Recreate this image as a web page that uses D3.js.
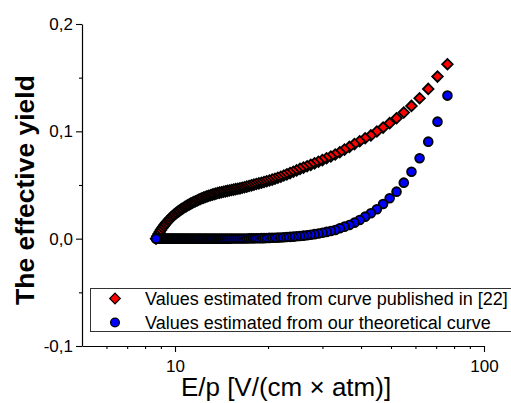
<!DOCTYPE html>
<html>
<head>
<meta charset="utf-8">
<script src="https://cdn.jsdelivr.net/npm/d3@7"></script>
<style>
  html, body { margin: 0; padding: 0; background: #fff; }
  svg { display: block; }
  text { font-family: "Liberation Sans", Arial, Helvetica, sans-serif; fill: #000; }
</style>
</head>
<body>
<svg id="chart" width="511" height="403"></svg>
<script>
// Reduced field E/p [V/(cm x atm)]
const fieldRatio = [
  8.68, 8.76, 8.84, 8.92, 9.00, 9.08, 9.17, 9.25, 9.34, 9.43,
  9.52, 9.61, 9.71, 9.80, 9.90, 10.00, 10.10, 10.21, 10.31, 10.42,
  10.53, 10.65, 10.76, 10.88, 11.00, 11.12, 11.25, 11.38, 11.51, 11.65,
  11.79, 11.93, 12.07, 12.22, 12.38, 12.53, 12.69, 12.86, 13.03, 13.20,
  13.38, 13.56, 13.75, 13.94, 14.14, 14.35, 14.56, 14.78, 15.00, 15.23,
  15.47, 15.71, 15.97, 16.23, 16.50, 16.78, 17.07, 17.37, 17.68, 18.00,
  18.33, 18.68, 19.04, 19.41, 19.80, 20.20, 20.63, 21.06, 21.52, 22.00,
  22.50, 23.02, 23.57, 24.15, 24.75, 25.38, 26.05, 26.76, 27.50, 28.29,
  29.12, 30.00, 30.94, 31.94, 33.00, 34.14, 35.36, 36.67, 38.08, 39.60,
  41.25, 43.04, 45.00, 47.14, 49.50, 52.11, 55.00, 58.24, 61.88, 66.00,
  70.71, 76.15
];

// Effective yield taken from the published curve [22]
const yieldPublished = [
  0.0000, 0.0022, 0.0043, 0.0062, 0.0080, 0.0097, 0.0113, 0.0128, 0.0143, 0.0157,
  0.0170, 0.0183, 0.0196, 0.0208, 0.0219, 0.0230, 0.0240, 0.0250, 0.0259, 0.0268,
  0.0277, 0.0286, 0.0295, 0.0303, 0.0311, 0.0319, 0.0327, 0.0335, 0.0342, 0.0349,
  0.0356, 0.0363, 0.0370, 0.0376, 0.0382, 0.0388, 0.0394, 0.0400, 0.0405, 0.0410,
  0.0415, 0.0420, 0.0425, 0.0429, 0.0433, 0.0437, 0.0441, 0.0445, 0.0449, 0.0453,
  0.0457, 0.0461, 0.0465, 0.0469, 0.0474, 0.0479, 0.0485, 0.0491, 0.0497, 0.0503,
  0.0509, 0.0515, 0.0521, 0.0528, 0.0535, 0.0542, 0.0550, 0.0558, 0.0567, 0.0577,
  0.0588, 0.0599, 0.0611, 0.0623, 0.0636, 0.0650, 0.0662, 0.0675, 0.0688, 0.0702,
  0.0717, 0.0732, 0.0749, 0.0766, 0.0784, 0.0805, 0.0830, 0.0855, 0.0881, 0.0908,
  0.0935, 0.0962, 0.0998, 0.1035, 0.1076, 0.1122, 0.1175, 0.1237, 0.1308, 0.1395,
  0.1510, 0.1625
];

// Effective yield from our theoretical curve
const yieldTheory = [
  0.0000, 0.0000, 0.0000, 0.0000, 0.0000, 0.0000, 0.0000, 0.0000, 0.0000, 0.0000,
  0.0000, 0.0000, 0.0000, 0.0000, 0.0000, 0.0000, 0.0000, 0.0000, 0.0000, 0.0000,
  0.0000, 0.0000, 0.0000, 0.0000, 0.0000, 0.0000, 0.0000, 0.0000, 0.0000, 0.0000,
  0.0000, 0.0000, 0.0000, 0.0000, 0.0000, 0.0000, 0.0000, 0.0000, 0.0000, 0.0000,
  0.0000, 0.0000, 0.0000, 0.0000, 0.0000, 0.0000, 0.0000, 0.0000, 0.0000, 0.0001,
  0.0001, 0.0001, 0.0001, 0.0001, 0.0002, 0.0002, 0.0002, 0.0003, 0.0003, 0.0003,
  0.0004, 0.0004, 0.0005, 0.0005, 0.0006, 0.0007, 0.0008, 0.0009, 0.0010, 0.0011,
  0.0013, 0.0015, 0.0017, 0.0019, 0.0022, 0.0025, 0.0028, 0.0032, 0.0037, 0.0042,
  0.0048, 0.0055, 0.0063, 0.0071, 0.0081, 0.0097, 0.0112, 0.0128, 0.0149, 0.0174,
  0.0205, 0.0237, 0.0274, 0.0323, 0.0377, 0.0438, 0.0522, 0.0624, 0.0749, 0.0904,
  0.1090, 0.1333
];

const xMajorTicks = [10, 100];
const xMinorTicks = [6, 7, 8, 9, 20, 30, 40, 50, 60, 70, 80, 90];
const yMajorTicks = [-0.1, 0, 0.1, 0.2];
const yMinorTicks = [-0.05, 0.05, 0.15];
const seriesNames = [
  "Values estimated from curve published in [22]",
  "Values estimated from our theoretical curve"
];
const xTitle = "E/p [V/(cm \u00d7 atm)]";
const yTitle = "The effective yield";

const svg = d3.select("#chart");

const x = d3.scaleLog().domain([5, 100]).range([82, 484]);
const y = d3.scaleLinear().domain([-0.1, 0.2]).range([346, 24]);

const commaFmt = d => (d < 0 ? "-" : "") + Math.abs(d).toFixed(1).replace(".", ",");

// Axes
const gx = svg.append("g").attr("transform", `translate(0,${y(-0.1)})`);
gx.call(d3.axisBottom(x).tickValues(xMinorTicks).tickSize(3).tickSizeOuter(0).tickFormat(""));
gx.call(g => g.select(".domain").remove());
const gx2 = svg.append("g").attr("transform", `translate(0,${y(-0.1)})`);
gx2.call(d3.axisBottom(x).tickValues(xMajorTicks).tickSize(6).tickSizeOuter(0)
  .tickPadding(8).tickFormat(d => String(d)));

const gy = svg.append("g").attr("transform", `translate(${x(5)},0)`);
gy.call(d3.axisLeft(y).tickValues(yMinorTicks).tickSize(3).tickSizeOuter(0).tickFormat(""));
gy.call(g => g.select(".domain").remove());
const gy2 = svg.append("g").attr("transform", `translate(${x(5)},0)`);
gy2.call(d3.axisLeft(y).tickValues(yMajorTicks).tickSize(6).tickSizeOuter(0)
  .tickPadding(3).tickFormat(commaFmt));

svg.selectAll(".domain").attr("stroke", "#000").attr("stroke-width", 1.2);
svg.selectAll(".tick line").attr("stroke", "#000").attr("stroke-width", 1.1);
svg.selectAll(".tick text").attr("font-size", 17)
  .attr("font-family", "'Liberation Sans', Arial, sans-serif").attr("fill", "#222");

// Axis titles
svg.append("text")
  .attr("x", (x(5) + x(100)) / 2 + 3)
  .attr("y", 396)
  .attr("text-anchor", "middle")
  .attr("font-size", 26)
  .text(xTitle);

svg.append("text")
  .attr("transform", `translate(34,${(y(0.2) + y(-0.1)) / 2 + 5}) rotate(-90)`)
  .attr("text-anchor", "middle")
  .attr("font-size", 26.5)
  .attr("font-weight", "bold")
  .text(yTitle);

// Data points (drawn from high field to low so the first point sits on top)
const pts = fieldRatio.map((f, i) => ({ f, a: yieldPublished[i], b: yieldTheory[i] })).reverse();
const diamond = d3.symbol().type(d3.symbolSquare).size(56);

svg.append("g").selectAll("path")
  .data(pts)
  .join("path")
  .attr("d", diamond)
  .attr("transform", d => `translate(${x(d.f)},${y(d.a)}) rotate(45)`)
  .attr("fill", "#ff0000")
  .attr("stroke", "#000")
  .attr("stroke-width", 1.8);

svg.append("g").selectAll("circle")
  .data(pts)
  .join("circle")
  .attr("cx", d => x(d.f))
  .attr("cy", d => y(d.b))
  .attr("r", 4.4)
  .attr("fill", "#0000ff")
  .attr("stroke", "#000")
  .attr("stroke-width", 1.8);

// Legend
const lg = svg.append("g");
lg.append("rect")
  .attr("x", 90.5).attr("y", 288.5)
  .attr("width", 440).attr("height", 43)
  .attr("fill", "#fff").attr("stroke", "#333").attr("stroke-width", 1);
const legendColors = ["#ff0000", "#0000ff"];
seriesNames.forEach((name, i) => {
  const cy = 298.5 + i * 24;
  if (i === 0) {
    lg.append("path").attr("d", diamond)
      .attr("transform", `translate(115,${cy}) rotate(45)`)
      .attr("fill", legendColors[i]).attr("stroke", "#000").attr("stroke-width", 1.2);
  } else {
    lg.append("circle").attr("cx", 115).attr("cy", cy).attr("r", 4.4)
      .attr("fill", legendColors[i]).attr("stroke", "#000").attr("stroke-width", 1.2);
  }
  lg.append("text")
    .attr("x", 145).attr("y", cy)
    .attr("dy", "0.35em")
    .attr("font-size", 18)
    .attr("fill", "#111")
    .text(name);
});
</script>
</body>
</html>
